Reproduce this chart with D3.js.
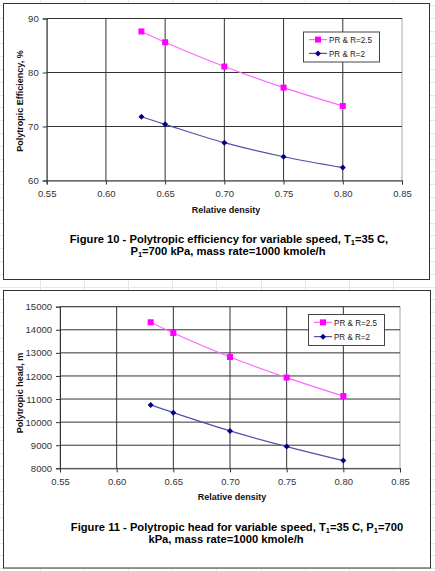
<!DOCTYPE html>
<html><head><meta charset="utf-8">
<script src="https://cdn.jsdelivr.net/npm/d3@7"></script>
<style>
html,body{margin:0;padding:0;background:#fff;}
svg{display:block;font-family:"Liberation Sans",Arial,sans-serif;}
</style></head>
<body>
<script>
// ---- data ----
const density = [0.63, 0.65, 0.70, 0.75, 0.80];
const effR25 = [87.6, 85.6, 81.1, 77.2, 73.8];
const effR2 = [71.8, 70.4, 67.0, 64.4, 62.4];
const headR25 = [14325, 13860, 12820, 11930, 11130];
const headR2 = [10745, 10410, 9620, 8940, 8333];
const xTicks = [0.55, 0.60, 0.65, 0.70, 0.75, 0.80, 0.85];
const effTicks = [60, 70, 80, 90];
const headTicks = [8000, 9000, 10000, 11000, 12000, 13000, 14000, 15000];
const seriesNames = ["PR & R=2.5", "PR & R=2"];

const W = 435, H = 571;
const svg = d3.select("body").append("svg").attr("width", W).attr("height", H);

// faint spreadsheet grid behind
const bg = svg.append("g").attr("stroke", "#e6e6e6").attr("stroke-width", 1);
for (let x = 40; x < W; x += 44.1) bg.append("line").attr("x1", Math.round(x)+0.5).attr("x2", Math.round(x)+0.5).attr("y1", 0).attr("y2", H);
for (let y = 5; y < H; y += 12.8) bg.append("line").attr("y1", Math.round(y)+0.5).attr("y2", Math.round(y)+0.5).attr("x1", 0).attr("x2", W);

function drawChart(o) {
  const g = svg.append("g");
  g.append("rect").attr("x", o.frame[0]+0.5).attr("y", o.frame[1]+0.5)
    .attr("width", o.frame[2]-o.frame[0]).attr("height", o.frame[3]-o.frame[1])
    .attr("fill", "#fff").attr("stroke", "#333").attr("stroke-width", 1);

  const x = d3.scaleLinear().domain([0.55, 0.85]).range([o.pl, o.pr]);
  const y = d3.scaleLinear().domain(o.ydom).range([o.pb, o.pt]);

  // plot area border (gray top/right)
  g.append("rect").attr("x", o.pl).attr("y", o.pt).attr("width", o.pr-o.pl).attr("height", o.pb-o.pt)
    .attr("fill", "#fff").attr("stroke", "#a8a8a8").attr("stroke-width", 1);

  // gridlines
  const grid = g.append("g").attr("stroke", "#333").attr("stroke-width", 1);
  xTicks.slice(1, -1).forEach(t => grid.append("line").attr("x1", x(t)).attr("x2", x(t)).attr("y1", o.pt).attr("y2", o.pb));
  o.yticks.slice(1).forEach(t => grid.append("line").attr("y1", y(t)).attr("y2", y(t)).attr("x1", o.pl).attr("x2", o.pr));

  // axes
  const xa = g.append("g").attr("transform", `translate(0,${o.pb})`)
    .call(d3.axisBottom(x).tickValues(xTicks).tickFormat(d3.format(".2f")).tickSize(4).tickPadding(6));
  const ya = g.append("g").attr("transform", `translate(${o.pl},0)`)
    .call(d3.axisLeft(y).tickValues(o.yticks).tickFormat(d3.format("d")).tickSize(4).tickPadding(4));
  [xa, ya].forEach(a => {
    a.select(".domain").attr("stroke", "#333");
    a.selectAll(".tick line").attr("stroke", "#333");
    a.selectAll("text").attr("fill", "#333").style("font-size", "9.5px").style("font-family", "Liberation Sans, Arial, sans-serif");
  });

  // series lines
  const line = d3.line().x(d => x(d[0])).y(d => y(d[1])).curve(d3.curveCatmullRom.alpha(0.5));
  const s1 = density.map((d, i) => [d, o.s1[i]]);
  const s2 = density.map((d, i) => [d, o.s2[i]]);
  g.append("path").datum(s1).attr("d", line).attr("fill", "none").attr("stroke", "#ff66ff").attr("stroke-width", 1.2);
  g.append("path").datum(s2).attr("d", line).attr("fill", "none").attr("stroke", "#5050a8").attr("stroke-width", 1.2);
  g.selectAll(".m1").data(s1).join("rect").attr("x", d => x(d[0])-3).attr("y", d => y(d[1])-3)
    .attr("width", 6).attr("height", 6).attr("fill", "#ff00ff");
  g.selectAll(".m2").data(s2).join("path").attr("transform", d => `translate(${x(d[0])},${y(d[1])})`)
    .attr("d", "M0,-3L3,0L0,3L-3,0Z").attr("fill", "#000080");

  // axis titles
  g.append("text").attr("x", o.xtx).attr("y", o.pb+32).attr("text-anchor", "middle")
    .style("font-size", "9px").style("font-weight", "bold").attr("fill", "#111").text("Relative density");
  g.append("text").attr("transform", `translate(${o.ytx},${o.yty}) rotate(-90)`).attr("text-anchor", "middle")
    .attr("dy", "0.35em").style("font-size", "9px").style("font-weight", "bold").attr("fill", "#111").text(o.ytitle);

  // legend
  const L = o.legend;
  g.append("rect").attr("x", L[0]+0.5).attr("y", L[1]+0.5).attr("width", L[2]-L[0]).attr("height", L[3]-L[1])
    .attr("fill", "#fff").attr("stroke", "#444").attr("stroke-width", 1);
  const ly = [L[1]+ (L[3]-L[1])*0.27, L[1] + (L[3]-L[1])*0.73];
  const lx0 = L[0]+6, lx1 = L[0]+24;
  g.append("line").attr("x1", lx0).attr("x2", lx1).attr("y1", ly[0]).attr("y2", ly[0]).attr("stroke", "#ff66ff").attr("stroke-width", 1.2);
  g.append("rect").attr("x", (lx0+lx1)/2-3).attr("y", ly[0]-3).attr("width", 6).attr("height", 6).attr("fill", "#ff00ff");
  g.append("line").attr("x1", lx0).attr("x2", lx1).attr("y1", ly[1]).attr("y2", ly[1]).attr("stroke", "#5050a8").attr("stroke-width", 1.2);
  g.append("path").attr("transform", `translate(${(lx0+lx1)/2},${ly[1]})`).attr("d", "M0,-3L3,0L0,3L-3,0Z").attr("fill", "#000080");
  const lens = [43, 36];
  seriesNames.forEach((n, i) => g.append("text").attr("x", lx1+2).attr("y", ly[i]).attr("dy", "0.35em")
    .attr("textLength", lens[i]).attr("lengthAdjust", "spacingAndGlyphs")
    .style("font-size", "9.5px").attr("fill", "#222").text(n));

  // caption
  o.caption.forEach(c => {
    const t = g.append("text").attr("x", c.x).attr("y", c.y).attr("text-anchor", "middle")
      .style("font-size", "11.2px").style("font-weight", "bold").attr("fill", "#000");
    c.parts.forEach(p => {
      if (p.sub) t.append("tspan").attr("dy", 2).style("font-size", "7.5px").text(p.t);
      else t.append("tspan").attr("dy", p.after ? -2 : 0).text(p.t);
    });
  });
}

drawChart({
  frame: [3, 3, 429, 279],
  pl: 46.7, pr: 402, pt: 18.5, pb: 180.5,
  ydom: [60, 90], yticks: effTicks, s1: effR25, s2: effR2,
  ytitle: "Polytropic Efficiency, %", ytx: 20, yty: 101, xtx: 226,
  legend: [303, 31.5, 379, 61.5],
  caption: [
    {x: 229, y: 243, parts: [{t: "Figure 10 - Polytropic efficiency for variable speed, T"}, {t: "1", sub: true}, {t: "=35 C,", after: true}]},
    {x: 228, y: 255, parts: [{t: "P"}, {t: "1", sub: true}, {t: "=700 kPa, mass rate=1000 kmole/h", after: true}]}
  ]
});

drawChart({
  frame: [3, 290, 430, 567.5],
  pl: 60, pr: 400, pt: 306.7, pb: 468.3,
  ydom: [8000, 15000], yticks: headTicks, s1: headR25, s2: headR2,
  ytitle: "Polytropic head, m", ytx: 20, yty: 393, xtx: 232,
  legend: [308, 314, 384, 345],
  caption: [
    {x: 237, y: 531, parts: [{t: "Figure 11 - Polytropic head for variable speed, T"}, {t: "1", sub: true}, {t: "=35 C, P", after: true}, {t: "1", sub: true}, {t: "=700", after: true}]},
    {x: 226, y: 542.5, parts: [{t: "kPa, mass rate=1000 kmole/h"}]}
  ]
});
</script>
</body></html>
